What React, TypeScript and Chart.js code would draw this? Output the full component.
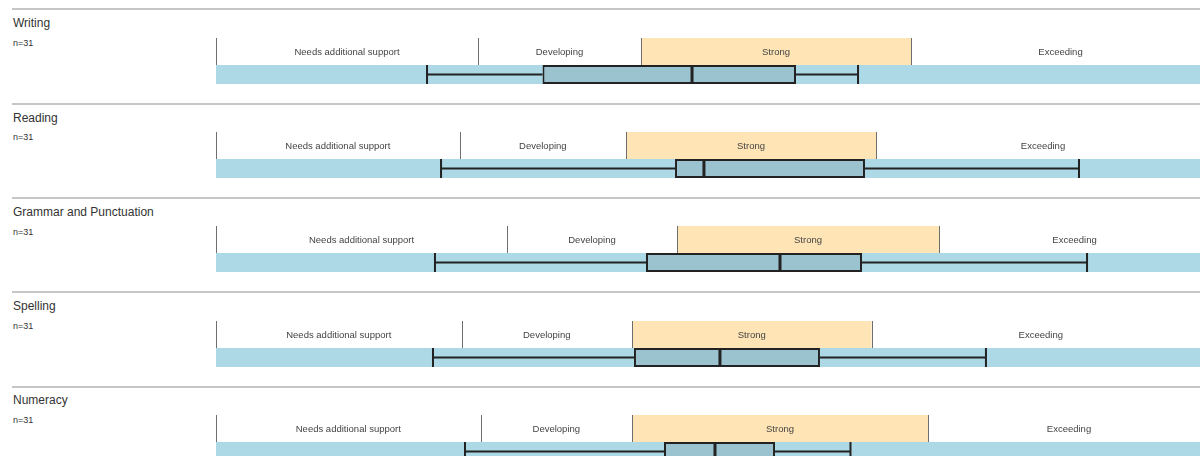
import React, { useEffect, useRef } from "react";
import { Chart, registerables } from "chart.js";

Chart.register(...registerables);

const subjects = ["Writing", "Reading", "Grammar and Punctuation", "Spelling", "Numeracy"];
const counts = [31, 31, 31, 31, 31];
const zoneLabels = ["Needs additional support", "Developing", "Strong", "Exceeding"];
const highlightedZone = "Strong";
const scaleMin = 0;
const scaleMax = 100;
const developingStart = [26.36, 24.51, 29.28, 24.7, 26.62];
const strongStart = [42.76, 41.25, 46.38, 41.85, 41.85];
const exceedingStart = [69.92, 66.4, 72.74, 65.95, 71.63];
const whiskerLow = [21.23, 22.64, 22.03, 21.83, 25.05];
const quartile1 = [32.85, 46.18, 43.26, 42.05, 45.07];
const medians = [47.89, 49.09, 56.74, 50.7, 50.2];
const quartile3 = [58.35, 65.29, 64.99, 60.76, 56.24];
const whiskerHigh = [64.59, 86.82, 87.63, 77.46, 63.83];

const FONT = "'Liberation Sans', Arial, sans-serif";
const ROW_TOP = 9.3;
const ROW_PITCH = 94.3;
const PLOT_LEFT = 216;
const PLOT_WIDTH = 994;

const zoneLabelPlugin = {
  id: "zoneLabels",
  afterDatasetsDraw(chart: any) {
    const ctx = chart.ctx;
    const xs = chart.scales.x;
    const area = chart.chartArea;
    const yMid = (area.top + area.bottom) / 2 + 0.5;
    ctx.save();
    ctx.strokeStyle = "#6e6e6e";
    ctx.lineWidth = 1;
    ctx.beginPath();
    chart.data.datasets.forEach((ds: any) => {
      const s = ds.data[0][0];
      const x = Math.round(xs.getPixelForValue(s)) + 0.5;
      ctx.moveTo(x, area.top);
      ctx.lineTo(x, area.bottom);
    });
    ctx.stroke();
    ctx.font = `9.5px ${FONT}`;
    ctx.fillStyle = "#444444";
    ctx.textAlign = "center";
    ctx.textBaseline = "middle";
    chart.data.datasets.forEach((ds: any) => {
      const [s, e] = ds.data[0];
      const x = xs.getPixelForValue((s + e) / 2);
      ctx.fillText(ds.label, x, yMid);
    });
    ctx.restore();
  },
};

const whiskerPlugin = {
  id: "whiskers",
  afterDatasetsDraw(chart: any) {
    const w = chart.options.plugins.whiskers;
    if (!w) return;
    const ctx = chart.ctx;
    const xs = chart.scales.x;
    const area = chart.chartArea;
    const mid = (area.top + area.bottom) / 2;
    const lo = xs.getPixelForValue(w.low);
    const hi = xs.getPixelForValue(w.high);
    const q1 = xs.getPixelForValue(w.q1);
    const q3 = xs.getPixelForValue(w.q3);
    const md = xs.getPixelForValue(w.median);
    ctx.save();
    ctx.strokeStyle = "#222222";
    ctx.lineWidth = 2;
    ctx.beginPath();
    ctx.moveTo(lo, mid);
    ctx.lineTo(q1, mid);
    ctx.moveTo(q3, mid);
    ctx.lineTo(hi, mid);
    ctx.moveTo(lo, area.top);
    ctx.lineTo(lo, area.bottom);
    ctx.moveTo(hi, area.top);
    ctx.lineTo(hi, area.bottom);
    ctx.stroke();
    ctx.lineWidth = 3;
    ctx.beginPath();
    ctx.moveTo(md, area.top);
    ctx.lineTo(md, area.bottom);
    ctx.stroke();
    ctx.restore();
  },
};

const baseOptions = () => ({
  indexAxis: "y" as const,
  responsive: false,
  animation: false as const,
  events: [] as any[],
  layout: { padding: 0 },
  scales: {
    x: { type: "linear" as const, min: scaleMin, max: scaleMax, display: false },
    y: { display: false },
  },
});

function Row({ i }: { i: number }) {
  const zoneRef = useRef<HTMLCanvasElement>(null);
  const scoreRef = useRef<HTMLCanvasElement>(null);

  useEffect(() => {
    const starts = [scaleMin, developingStart[i], strongStart[i], exceedingStart[i]];
    const ends = [developingStart[i], strongStart[i], exceedingStart[i], scaleMax];
    const zoneChart = new Chart(zoneRef.current!, {
      type: "bar",
      data: {
        labels: ["zones"],
        datasets: zoneLabels.map((lab, k) => ({
          label: lab,
          data: [[starts[k], ends[k]]] as any,
          backgroundColor: lab === highlightedZone ? "#ffe4b5" : "#ffffff",
          borderWidth: 0,
          borderSkipped: false,
          grouped: false,
          barPercentage: 1,
          categoryPercentage: 1,
          inflateAmount: 0,
        })),
      },
      options: {
        ...baseOptions(),
        plugins: { legend: { display: false }, tooltip: { enabled: false } },
      } as any,
      plugins: [zoneLabelPlugin],
    });

    const scoreChart = new Chart(scoreRef.current!, {
      type: "bar",
      data: {
        labels: ["score"],
        datasets: [
          {
            label: "Interquartile range",
            data: [[quartile1[i], quartile3[i]]] as any,
            backgroundColor: "#9bc3cf",
            borderColor: "#222222",
            borderWidth: 2,
            borderSkipped: false,
            grouped: false,
            barPercentage: 1,
            categoryPercentage: 1,
            inflateAmount: 0,
            order: 1,
          },
          {
            label: "Scale",
            data: [[scaleMin, scaleMax]] as any,
            backgroundColor: "#add8e6",
            borderWidth: 0,
            grouped: false,
            barPercentage: 1,
            categoryPercentage: 1,
            inflateAmount: 0,
            order: 2,
          },
        ],
      },
      options: {
        ...baseOptions(),
        plugins: {
          legend: { display: false },
          tooltip: { enabled: false },
          whiskers: {
            low: whiskerLow[i],
            q1: quartile1[i],
            median: medians[i],
            q3: quartile3[i],
            high: whiskerHigh[i],
          },
        },
      } as any,
      plugins: [whiskerPlugin],
    });

    return () => {
      zoneChart.destroy();
      scoreChart.destroy();
    };
  }, [i]);

  const y0 = ROW_TOP + ROW_PITCH * i;
  return (
    <>
      <div
        style={{
          position: "absolute",
          left: 12,
          top: Math.round(y0 - 1),
          width: 1188,
          height: 2,
          background: "#c6c6c6",
        }}
      />
      <div
        style={{
          position: "absolute",
          left: 13,
          top: y0 + 6.9,
          font: `12px ${FONT}`,
          lineHeight: "14px",
          color: "#333333",
          whiteSpace: "nowrap",
        }}
      >
        {subjects[i]}
      </div>
      <div
        style={{
          position: "absolute",
          left: 13,
          top: y0 + 28.8,
          font: `9px ${FONT}`,
          lineHeight: "11px",
          color: "#333333",
        }}
      >
        n={counts[i]}
      </div>
      <canvas
        ref={zoneRef}
        width={PLOT_WIDTH}
        height={27}
        style={{
          position: "absolute",
          left: PLOT_LEFT,
          top: Math.round(y0 + 28.5),
          width: PLOT_WIDTH,
          height: 27,
          display: "block",
        }}
      />
      <canvas
        ref={scoreRef}
        width={PLOT_WIDTH}
        height={19}
        style={{
          position: "absolute",
          left: PLOT_LEFT,
          top: Math.round(y0 + 55.4),
          width: PLOT_WIDTH,
          height: 19,
          display: "block",
        }}
      />
    </>
  );
}

export default function App() {
  return (
    <div
      style={{
        position: "fixed",
        left: 0,
        top: 0,
        width: 1200,
        height: 456,
        overflow: "hidden",
        background: "#ffffff",
      }}
    >
      {subjects.map((_, i) => (
        <Row key={i} i={i} />
      ))}
    </div>
  );
}
